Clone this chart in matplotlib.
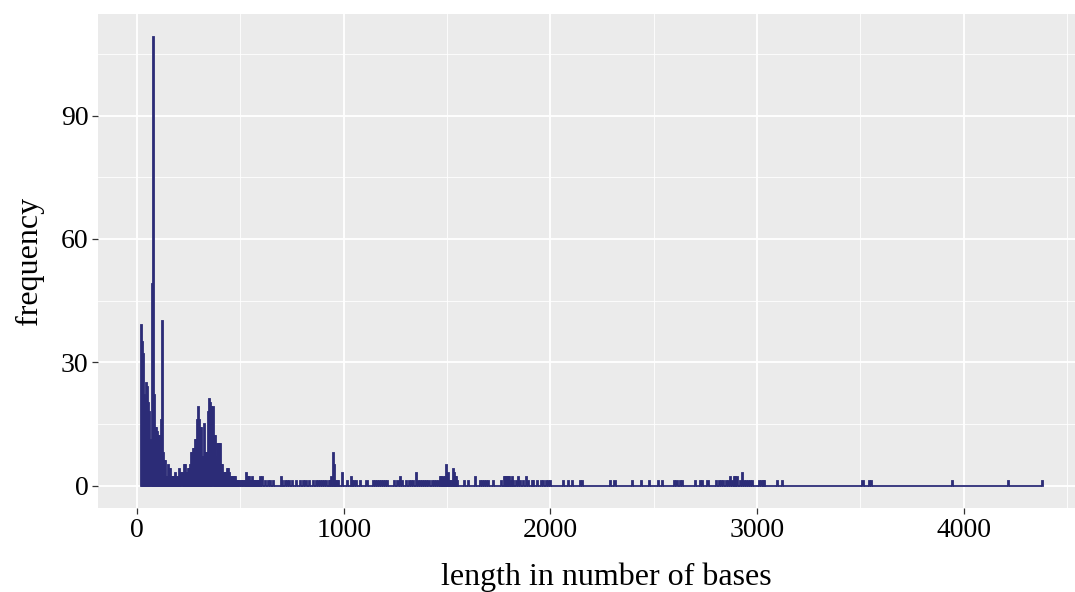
import numpy as np
import matplotlib
matplotlib.use("Agg")
import matplotlib.pyplot as plt

# bin width of the histogram (bases)
binw = 5

# dense part: counts for bins starting at 20, 25, 30, ... 600
dense_start = 20
dense_counts = [39, 35, 32, 22, 21, 25, 24, 20, 18, 11, 49, 109, 22, 14, 14, 13,
                12, 11, 12, 16, 40, 8, 6, 6, 2, 2, 5, 4, 4, 2, 2, 2,
                2, 3, 2, 1, 2, 4, 3, 3, 3, 5, 5, 3, 3, 4, 4, 5,
                8, 8, 9, 9, 11, 11, 16, 19, 16, 14, 14, 7, 7, 15, 8, 8,
                8, 18, 21, 20, 19, 19, 12, 12, 7, 10, 10, 10, 10, 5, 5, 3,
                3, 3, 3, 4, 4, 3, 1, 2, 2, 2, 2, 2, 1, 1, 1, 1,
                0, 1, 1, 1, 1, 3, 2, 2, 2, 1, 1, 2, 1, 1, 1, 1,
                1, 1, 1, 2]

# sparse part: bin start -> count, beyond 600
sparse_x = [605, 620, 635, 645, 660, 695, 700, 715, 725, 735, 750, 770, 790, 805,
            815, 830, 850, 865, 875, 885, 895, 905, 915, 930, 935, 940, 950, 955,
            960, 965, 970, 990, 1015, 1035, 1040, 1050, 1060, 1080, 1110, 1140,
            1150, 1160, 1170, 1180, 1190, 1200, 1210, 1245, 1260, 1270, 1280, 1300,
            1315, 1325, 1335, 1350, 1360, 1370, 1380, 1390, 1400, 1410, 1425, 1435,
            1445, 1455, 1465, 1470, 1475, 1480, 1485, 1490, 1495, 1500, 1505, 1510,
            1515, 1525, 1530, 1535, 1540, 1545, 1550, 1580, 1600, 1635, 1660, 1670,
            1680, 1690, 1700, 1720, 1760, 1775, 1780, 1785, 1790, 1795, 1800, 1810,
            1815, 1820, 1835, 1845, 1855, 1865, 1880, 1890, 1910, 1915, 1935, 1955,
            1965, 1980, 1990, 2000, 2060, 2085, 2105, 2145, 2155, 2290, 2310, 2395,
            2440, 2475, 2520, 2540, 2600, 2610, 2625, 2635, 2700, 2725, 2735, 2760,
            2800, 2815, 2825, 2835, 2850, 2860, 2870, 2880, 2890, 2895, 2905, 2915,
            2925, 2935, 2945, 2955, 2965, 2975, 3010, 3020, 3030, 3035, 3095, 3120,
            3510, 3540, 3550, 3945, 4215, 4380]
sparse_counts = [2, 1, 1, 1, 1, 2, 1, 1, 1, 1, 1, 1, 1, 1,
                 1, 1, 1, 1, 1, 1, 1, 1, 1, 1, 1, 2, 8, 5,
                 1, 1, 1, 3, 1, 2, 1, 1, 1, 1, 1, 1,
                 1, 1, 1, 1, 1, 1, 1, 1, 1, 2, 1, 1,
                 1, 1, 1, 3, 1, 1, 1, 1, 1, 1, 1, 1,
                 1, 1, 2, 2, 1, 2, 1, 2, 5, 2, 3, 1,
                 1, 1, 4, 3, 2, 2, 1, 1, 1, 2, 1, 1,
                 1, 1, 1, 1, 1, 2, 2, 2, 2, 2, 2, 1,
                 2, 1, 1, 2, 1, 1, 2, 1, 1, 1, 1, 1,
                 1, 1, 1, 1, 1, 1, 1, 1, 1, 1, 1, 1,
                 1, 1, 1, 1, 1, 1, 1, 1, 1, 1, 1, 1,
                 1, 1, 1, 1, 1, 1, 2, 1, 2, 2, 2, 1,
                 3, 1, 1, 1, 1, 1, 1, 1, 1, 1, 1, 1,
                 1, 1, 1, 1, 1, 1]

# full histogram table (zero bins included, like ggplot draws them)
edges = np.arange(dense_start, sparse_x[-1] + binw + 1, binw)
counts = np.zeros(len(edges) - 1)
counts[:len(dense_counts)] = dense_counts
for x, c in zip(sparse_x, sparse_counts):
    counts[(x - dense_start) // binw] = c

col = "#2C2C77"
plt.rcParams['font.family'] = ['Liberation Serif', 'DejaVu Serif']

fig = plt.figure(figsize=(10.75, 5.92), dpi=100)
# panel runs past the right edge of the picture (the original was cropped)
ax = fig.add_axes([98 / 1075, 1 - 508 / 592, (1114 - 98) / 1075, (508 - 14) / 592])
ax.set_facecolor("#EBEBEB")

ax.bar(edges[:-1], counts, width=binw, align="edge", color=col,
       edgecolor=col, linewidth=1.3, zorder=3)

ax.set_xlim(-189, 4727)
ax.set_ylim(-5.45, 114.7)
ax.set_xticks([0, 1000, 2000, 3000, 4000])
ax.set_yticks([0, 30, 60, 90])
ax.set_xticks([500, 1500, 2500, 3500, 4500], minor=True)
ax.set_yticks([15, 45, 75, 105], minor=True)
ax.grid(True, which="major", color="white", linewidth=1.3, zorder=0)
ax.grid(True, which="minor", color="white", linewidth=0.6, zorder=0)
ax.set_axisbelow(True)
for s in ax.spines.values():
    s.set_visible(False)
ax.tick_params(which="major", length=4, width=0.9, color="#333333",
               labelsize=20, labelcolor="black", pad=3)
ax.tick_params(which="minor", length=0)

ax.set_xlabel("length in number of bases", fontsize=23, labelpad=14)
ax.set_ylabel("frequency", fontsize=23, labelpad=12)

fig.savefig("out.png", dpi=100)
